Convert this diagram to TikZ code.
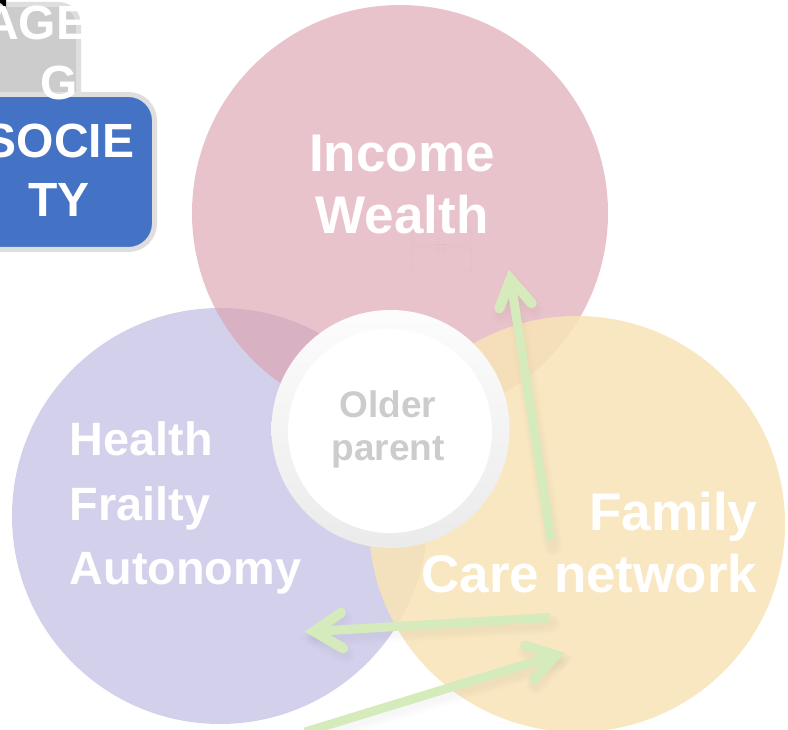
\documentclass[tikz,border=0pt]{standalone}
\usepackage{fontspec}
\setmainfont{Liberation Sans}
\definecolor{pinkc}{HTML}{DCA0AD}
\definecolor{purplec}{HTML}{D3D0EB}
\definecolor{yellowc}{HTML}{F8E4B8}
\definecolor{greenc}{HTML}{D6EBBC}
\definecolor{bluec}{HTML}{4472C4}
\definecolor{grayc}{HTML}{CCCCCC}
\definecolor{borderc}{HTML}{DEDEDE}
\tikzset{
  blob/.style={circle,minimum size=416pt,inner sep=0pt,draw=none},
  bigtext/.style={text=white,font=\bfseries\fontsize{53}{62}\selectfont,inner sep=0pt},
  midtext/.style={text=white,font=\bfseries\fontsize{46.8}{64.5}\selectfont,inner sep=0pt,align=left},
  boxtext/.style={text=white,font=\bfseries\fontsize{48}{59}\selectfont,inner sep=0pt,align=center},
  centertext/.style={text=grayc,font=\bfseries\fontsize{37}{43}\selectfont,inner sep=0pt,align=center},
  shaft/.style={draw=greenc,line width=9pt,line cap=butt},
  head/.style={draw=greenc,line width=10pt,line cap=round,line join=miter,miter limit=10},
  shadowline/.style={draw=black,opacity=.007,line cap=round},
  ghost/.style={draw=black,opacity=.035,line width=.8pt,rounded corners=1pt},
}
\newcommand{\arrowshadow}[4]{%
  \foreach \w in {8,12,16,20}{
    \draw[shadowline,line width=\w pt,transform canvas={xshift=2pt,yshift=-6pt}] (#1) -- (#2);
    \draw[shadowline,line width=\w pt,transform canvas={xshift=2pt,yshift=-6pt}] (#3) -- (#2) -- (#4);
  }}
\begin{document}
\begin{tikzpicture}[x=1pt,y=-1pt]
\useasboundingbox (0,0) rectangle (788,730);
\clip (0,0) rectangle (788,730);
% circles
\node[blob,fill=purplec] (health) at (220,516) {};
\node[blob,fill=pinkc,fill opacity=.63] (income) at (400,213) {};
\node[blob,fill=yellowc,fill opacity=.88] (family) at (577,524) {};
% ghost briefcase
\draw[ghost] (412,248) rectangle (471,272);
\draw[ghost] (412,245) -- (412,231) -- (471,231) -- (471,245) -- cycle;
\draw[ghost] (426,231) -- (426,222) -- (456,222) -- (456,231);
\draw[ghost] (437,244) rectangle (445,251);
% boxes
\draw[fill=grayc,draw=borderc,line width=5pt,rounded corners=20pt] (-60,4.5) rectangle (78.5,140);
\draw[fill=bluec,draw=borderc,line width=5pt,rounded corners=26pt] (-60,94.5) rectangle (154.5,249.5);
\fill[black] (0,0) -- (6,0) -- (6,9) -- (2,4) -- (0,3) -- cycle;
% box text
\begin{scope}
  \clip (0,0) rectangle (81,120);
  \node[boxtext,anchor=base west] (ageing) at (-16,40) {AGE};
\end{scope}
\node[boxtext,anchor=base] (g) at (59,99.5) {G};
\node[boxtext,anchor=base] (socie) at (59.5,158) {SOCIE};
\node[boxtext,anchor=base] (ty) at (59,217) {TY};
% labels
\node[bigtext,align=center,anchor=center] (incometext) at (402,185) {Income\\Wealth};
\node[midtext,anchor=west] (healthtext) at (69.5,508) {Health\\Frailty\\Autonomy};
\node[bigtext,align=right,anchor=east] (familytext) at (757.5,543) {Family\\Care network};
% centre
\node[circle,minimum size=238pt,inner sep=0pt,top color=white!99!black,bottom color=white!92!black] (ring) at (390.5,429) {};
\node[circle,minimum size=204pt,inner sep=0pt,fill=white] (core) at (390,431) {};
\node[centertext] (older) at (388,429) {Older\\parent};
% arrows
\coordinate (a1tail) at (551,540);
\coordinate (a1apex) at (510.5,279);
\coordinate (a1l) at (499.3,308.3);
\coordinate (a1r) at (531.7,303.3);
\coordinate (a2tail) at (549,617.5);
\coordinate (a2apex) at (314,631.4);
\coordinate (a2l) at (341,612.7);
\coordinate (a2r) at (343.3,648.3);
\coordinate (a3tail) at (305,732);
\coordinate (a3apex) at (555.5,655.2);
\coordinate (a3l) at (525,645.5);
\coordinate (a3r) at (534,679);
\arrowshadow{a1tail}{a1apex}{a1l}{a1r}
\arrowshadow{a2tail}{a2apex}{a2l}{a2r}
\arrowshadow{a3tail}{a3apex}{a3l}{a3r}
\draw[shaft] (a1tail) -- (a1apex);
\draw[head] (a1l) -- (a1apex) -- (a1r);
\draw[shaft] (a2tail) -- (a2apex);
\draw[head] (a2l) -- (a2apex) -- (a2r);
\draw[shaft] (a3tail) -- (a3apex);
\draw[head] (a3l) -- (a3apex) -- (a3r);
\end{tikzpicture}
\end{document}
